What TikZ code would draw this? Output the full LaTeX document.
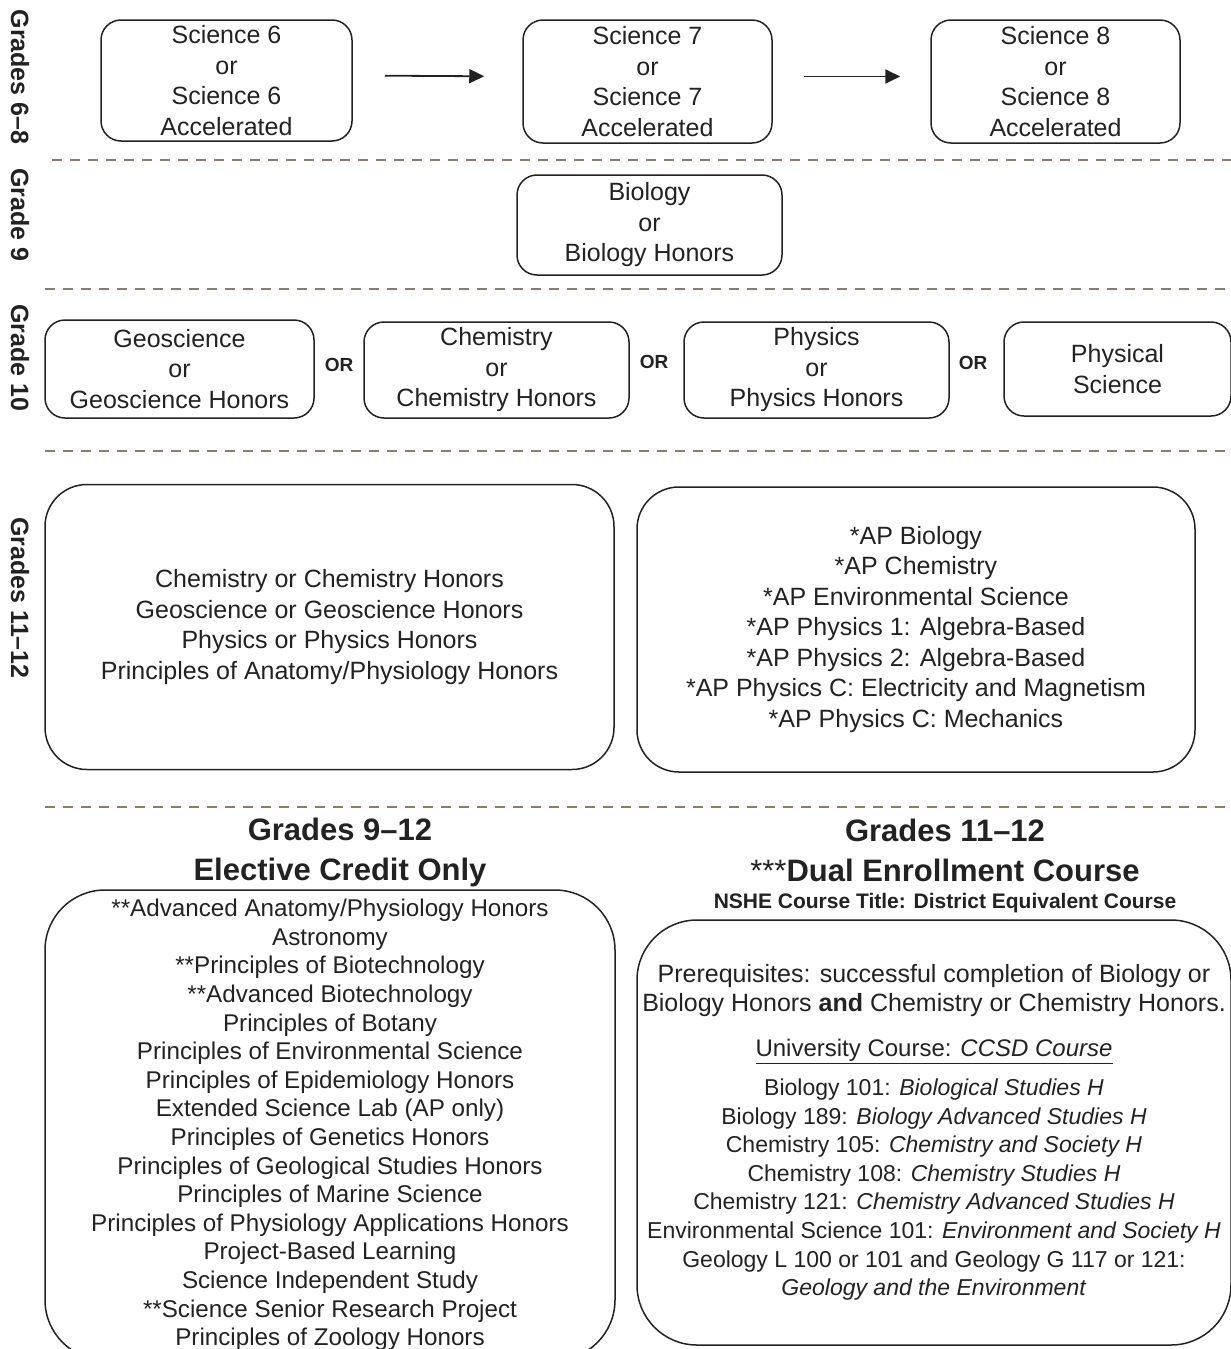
\documentclass[tikz,border=0pt]{standalone}
\usepackage{fontspec}
\setmainfont{Liberation Sans}
\usetikzlibrary{arrows.meta,positioning}

\definecolor{sepline}{HTML}{877F6C}
\definecolor{ink}{HTML}{222222}

\newcommand\prereqsize{\fontsize{25}{30}\selectfont}
\newcommand\unisize{\fontsize{24}{28.6}\selectfont}

\tikzset{
  course/.style={draw=ink, line width=1.5pt, rounded corners=20pt, align=center,
    inner sep=0pt, text=ink, font=\fontsize{25}{30.5}\selectfont},
  bigbox/.style={course, rounded corners=42pt},
  listbox/.style={course, rounded corners=60pt, font=\fontsize{24.2}{28.6}\selectfont},
  orlabel/.style={text=ink, font=\bfseries\fontsize{19}{22}\selectfont},
  gradelabel/.style={rotate=-90, text=ink, font=\bfseries\fontsize{25}{28}\selectfont},
  heading/.style={align=center, text=ink, font=\bfseries\fontsize{31}{40}\selectfont},
  flow/.style={-{Triangle[length=15pt,width=14pt]}, line width=1.8pt, ink},
  divider/.style={sepline, line width=2pt, dash pattern=on 10pt off 8pt}
}

\begin{document}
\begin{tikzpicture}[x=1pt,y=-1pt]
  % page frame (pixel grid of the reference)
  \useasboundingbox (0,0) rectangle (1231,1349);

  % Grades 6-8
  \node[course, minimum width=251pt, minimum height=121pt] (sci6) at (226.5,80.5)
    {Science 6\\or\\Science 6\\Accelerated};
  \node[course, minimum width=249pt, minimum height=123pt] (sci7) at (647.5,81.5)
    {Science 7\\or\\Science 7\\Accelerated};
  \node[course, minimum width=249pt, minimum height=123pt] (sci8) at (1055.5,81.5)
    {Science 8\\or\\Science 8\\Accelerated};
  \draw[flow, shorten <=32pt, shorten >=38pt] ([yshift=5pt]sci6.east) -- ([yshift=5pt]sci7.west);
  \draw[flow, shorten <=31pt, shorten >=30pt] ([yshift=5pt]sci7.east) -- ([yshift=5pt]sci8.west);

  % Grade 9
  \node[course, minimum width=265pt, minimum height=100pt] (bio) at (649.5,225)
    {Biology\\or\\Biology Honors};

  % Grade 10
  \node[course, minimum width=269pt, minimum height=98pt] (geo) at (179.5,369)
    {Geoscience\\or\\Geoscience Honors};
  \node[course, minimum width=265pt, minimum height=96pt] (chem) at (496.5,370)
    {Chemistry\\or\\Chemistry Honors};
  \node[course, minimum width=265pt, minimum height=96pt] (phys) at (816.5,370)
    {Physics\\or\\Physics Honors};
  \node[course, minimum width=227pt, minimum height=94pt] (physsci) at (1117.5,369)
    {Physical\\Science};
  \node[orlabel] (or1) at (339,365) {OR};
  \node[orlabel] (or2) at (654,362) {OR};
  \node[orlabel] (or3) at (973,363) {OR};

  % Grades 11-12
  \node[bigbox, minimum width=569pt, minimum height=285pt] (core) at (329.5,627)
    {Chemistry or Chemistry Honors\\Geoscience or Geoscience Honors\\
     Physics or Physics Honors\\Principles of Anatomy/Physiology Honors};
  \node[bigbox, minimum width=558pt, minimum height=285pt] (ap) at (916,629.5)
    {*AP Biology\\*AP Chemistry\\*AP Environmental Science\\
     *AP Physics 1: Algebra-Based\\*AP Physics 2: Algebra-Based\\
     *AP Physics C: Electricity and Magnetism\\*AP Physics C: Mechanics};

  % Electives and dual enrollment
  \node[heading] (elechead) at (340,852) {Grades 9--12\\Elective Credit Only};
  \node[heading] (dualhead) at (945,850) {Grades 11--12\\\mdseries***\bfseries Dual Enrollment Course};
  \node[text=ink, font=\bfseries\fontsize{21}{24}\selectfont] (nshe) at (945,903)
    {NSHE Course Title: District Equivalent Course};

  \node[listbox, minimum width=570pt, minimum height=470pt] (elect) at (330,1125)
    {**Advanced Anatomy/Physiology Honors\\Astronomy\\**Principles of Biotechnology\\
     **Advanced Biotechnology\\Principles of Botany\\Principles of Environmental Science\\
     Principles of Epidemiology Honors\\Extended Science Lab (AP only)\\
     Principles of Genetics Honors\\Principles of Geological Studies Honors\\
     Principles of Marine Science\\Principles of Physiology Applications Honors\\
     Project-Based Learning\\Science Independent Study\\
     **Science Senior Research Project\\Principles of Zoology Honors};
  \node[listbox, minimum width=594pt, minimum height=425pt, font=\fontsize{23}{28.6}\selectfont]
    (dual) at (934,1132.5)
    {\prereqsize Prerequisites: successful completion of Biology or\\
     \prereqsize Biology Honors \textbf{and} Chemistry or Chemistry Honors.\\[17pt]
     \unisize\underline{University Course: \textit{CCSD Course}}\\[10pt]
     Biology 101: \textit{Biological Studies H}\\
     Biology 189: \textit{Biology Advanced Studies H}\\
     Chemistry 105: \textit{Chemistry and Society H}\\
     Chemistry 108: \textit{Chemistry Studies H}\\
     Chemistry 121: \textit{Chemistry Advanced Studies H}\\
     Environmental Science 101: \textit{Environment and Society H}\\
     Geology L 100 or 101 and Geology G 117 or 121:\\
     \textit{Geology and the Environment}};

  % Grade labels
  \node[gradelabel] (lab68) at (20,77) {Grades 6--8};
  \node[gradelabel] (lab9) at (20,215) {Grade 9};
  \node[gradelabel] (lab10) at (20,358) {Grade 10};
  \node[gradelabel] (lab1112) at (20,598) {Grades 11--12};

  % Dividers
  \draw[divider] (52,160) -- (1231,160);
  \draw[divider] (45,289) -- (1231,289);
  \draw[divider] (45,451) -- (1231,451);
  \draw[divider] (45,807) -- (1231,807);
\end{tikzpicture}
\end{document}
